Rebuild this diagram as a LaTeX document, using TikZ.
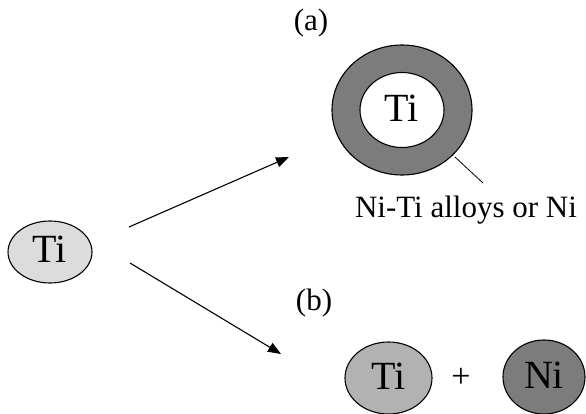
\documentclass[tikz,border=0pt]{standalone}
\usepackage{fontspec}
\setmainfont{Liberation Serif}
\usetikzlibrary{shapes.geometric,arrows.meta}
\definecolor{lightg}{HTML}{DCDCDC}
\definecolor{midg}{HTML}{B2B2B2}
\definecolor{darkg}{HTML}{7C7C7C}
\tikzset{
  blob/.style={ellipse, draw=black, line width=1.1pt, inner sep=0pt},
  big/.style={font=\fontsize{40}{44}\selectfont},
  lab/.style={font=\fontsize{31}{34}\selectfont, inner sep=0pt},
  arr/.style={line width=1.1pt, -{Triangle[length=13pt,width=10pt]}},
}
\begin{document}
\begin{tikzpicture}[x=1pt,y=-1pt]
\useasboundingbox (0,0) rectangle (586,414);
% left Ti
\node[blob, fill=lightg, minimum width=84pt, minimum height=62pt] (ti0) at (50,252) {};
\node[big] (ti0t) at (50,249) {Ti};
% arrows
\coordinate (a1s) at (129,227);
\coordinate (a1e) at (289,157);
\coordinate (a2s) at (130,263);
\coordinate (a2e) at (281,354);
\draw[arr] (a1s) -- (a1e);
\draw[arr] (a2s) -- (a2e);
% labels
\node[lab] (la) at (311,23) {(a)};
\node[lab] (lb) at (314,303) {(b)};
% ring
\node[blob, fill=darkg, minimum width=140pt, minimum height=130pt] (ring) at (402,110) {};
\node[blob, fill=white, minimum width=84pt, minimum height=75pt] (core) at (402,110) {};
\node[big] (coret) at (402,108) {Ti};
\coordinate (ls) at (455,157);
\coordinate (le) at (483,183);
\draw[line width=0.8pt] (ls) -- (le);
\node[lab, anchor=base] (alloy) at (466,218) {Ni-Ti alloys or Ni};
% bottom
\node[blob, fill=midg, minimum width=87pt, minimum height=72pt] (ti1) at (388.5,378) {};
\node[big] (ti1t) at (388.5,376) {Ti};
\node[font=\fontsize{34}{36}\selectfont, inner sep=0pt] (plus) at (461,378) {+};
\node[blob, fill=darkg, minimum width=82pt, minimum height=74pt] (ni) at (544,377) {};
\node[big] (nit) at (544,375) {Ni};
\end{tikzpicture}
\end{document}
